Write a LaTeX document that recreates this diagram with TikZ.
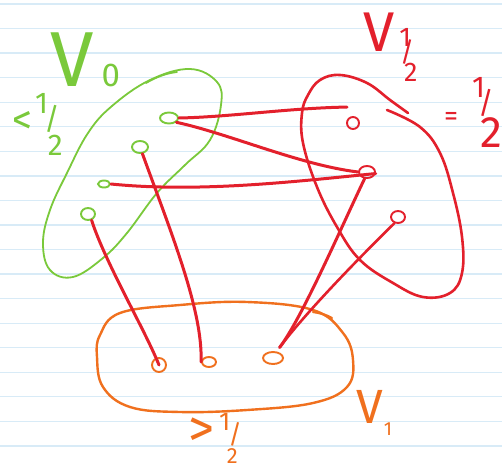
\documentclass[tikz,border=0pt]{standalone}
\usepackage{fontspec}
\setmainfont{Fira Sans}
\usetikzlibrary{shapes.geometric}
\definecolor{hgreen}{HTML}{7AC93B}
\definecolor{hred}{HTML}{E3202C}
\definecolor{horange}{HTML}{F0701E}
\definecolor{paperblue}{HTML}{D8EBF7}
\newcommand\fs[1]{\fontsize{#1}{#1}\selectfont}
\begin{document}
\begin{tikzpicture}[x=1pt,y=-1pt,
  paper/.style={draw=paperblue, line width=1.3pt},
  vtx/.style={ellipse, draw, line width=1.9pt, inner sep=0pt},
  edge/.style={draw=hred, line width=3pt, line cap=round},
  blob/.style={line width=2.2pt, line cap=round, line join=round},
  lbl/.style={inner sep=0pt, anchor=base west}]
\useasboundingbox[fill=white] (0,0) rectangle (502,465);
\foreach \k in {0,...,18} \draw[paper] (0,{4+24.55*\k}) -- (502,{4+24.55*\k});

% green set V0
\draw[blob, hgreen, line width=1.8pt] plot[smooth cycle, tension=0.65] coordinates {
 (150,80) (190,69) (217,82) (221,105) (210,140) (185,165) (157,193) (127,233)
 (103,258) (73,277) (50,270) (43,243) (50,210) (67,173) (88,133) (112,106)};
\draw[blob, hgreen, line width=1.8pt] (146,83) .. controls (158,76) and (168,73) .. (177,72);

% red set V1/2
\draw[blob, hred, line width=2.6pt] plot[smooth, tension=0.65] coordinates {
 (387,110) (420,127) (440,153) (453,193) (462,237) (462,273) (450,293) (423,297)
 (393,283) (360,260) (337,227) (317,187) (303,143) (302,113) (308,95) (320,80)
 (340,75) (367,83) (390,100) (408,113)};

% orange set V1
\draw[blob, horange, line width=2.4pt] plot[smooth cycle, tension=0.65] coordinates {
 (97,357) (100,335) (120,313) (180,305) (247,302) (313,310) (343,333) (353,360)
 (347,387) (313,403) (247,410) (180,412) (130,407) (103,387)};
\draw[blob, horange, line width=2.2pt] (313,312) .. controls (320,313) and (327,315) .. (332,318);

% vertices
\node[vtx, draw=hgreen, minimum width=18pt, minimum height=11pt] (g1) at (169,118) {};
\node[vtx, draw=hgreen, minimum width=16pt, minimum height=12pt] (g2) at (140,147) {};
\node[vtx, draw=hgreen, minimum width=12pt, minimum height=7pt] (g3) at (104,184) {};
\node[vtx, draw=hgreen, minimum width=14pt, minimum height=12pt] (g4) at (88,214) {};
\node[vtx, draw=hred, minimum width=12pt, minimum height=12pt] (r1) at (353,123) {};
\node[vtx, draw=hred, minimum width=16pt, minimum height=12pt] (r2) at (367,172) {};
\node[vtx, draw=hred, minimum width=14pt, minimum height=12pt] (r3) at (398,217) {};
\node[vtx, draw=horange, minimum width=14pt, minimum height=14pt] (o1) at (159,365) {};
\node[vtx, draw=horange, minimum width=14pt, minimum height=10pt] (o2) at (209,362) {};
\node[vtx, draw=horange, minimum width=20pt, minimum height=12pt] (o3) at (273,358) {};

% edges
\draw[edge] (g1.east) .. controls (230,117) and (290,108) .. ([xshift=-6pt,yshift=9pt]r1.north);
\draw[edge] (g1.-30) .. controls (230,134) and (300,165) .. (r2.west);
\draw[edge] (g3.east) .. controls (200,193) and (300,181) .. (r2.-10);
\draw[edge] (g2.-70) .. controls (170,230) and (203,310) .. (o2.west);
\draw[edge] (g4.-60) .. controls (105,262) and (145,330) .. (o1.center);
\draw[edge] (r2.-110) .. controls (340,230) and (302,318) .. ([yshift=5pt]o3.40);
\draw[edge, line width=2.6pt] (r3.-120) .. controls (362,255) and (306,312) .. ([yshift=5pt]o3.40);

% labels
\node[lbl, text=hgreen] (lV0) at (50,87) {\fs{78}V\kern8pt\fs{33}0};
\node[lbl, text=hgreen] (lV0r) at (12,133) {\fs{40}<\kern3pt\fs{30}\raisebox{20pt}{1}\kern-4pt\raisebox{4pt}{/}\kern-12pt\raisebox{-22pt}{2}};
\node[lbl, text=hred] (lVh) at (363,52) {\fs{56}V\fs{27}\kern5pt\raisebox{5pt}{1}\kern-11pt\raisebox{-10pt}{/}\kern-10pt\raisebox{-30pt}{2}};
\node[lbl, text=hred] (lVhr) at (444,125) {\fs{28}=\kern14pt\fs{30}\raisebox{28pt}{1}\kern-7pt\raisebox{12pt}{/}\kern-13pt\fs{44}\raisebox{-22pt}{2}};
\node[lbl, text=horange] (lV1r) at (188,446) {\fs{52}>\kern5pt\fs{26}\raisebox{16pt}{1}\kern-2pt\raisebox{3pt}{/}\kern-15pt\fs{22}\raisebox{-17pt}{2}};
\node[lbl, text=horange] (lV1) at (356,423) {\fs{48}V\kern1pt\fs{19}\raisebox{-12pt}{1}};
\end{tikzpicture}
\end{document}
